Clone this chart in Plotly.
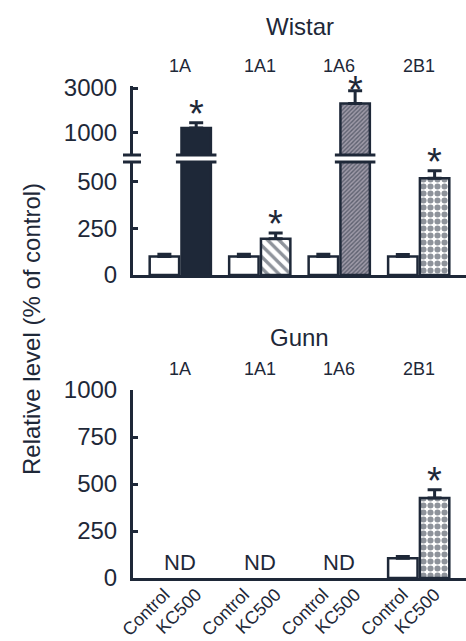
import numpy as np
import plotly.graph_objects as go

# ---- data -------------------------------------------------------------
groups = ["1A", "1A1", "1A6", "2B1"]
treatments = ["Control", "KC500"]

wistar_control = [100, 100, 100, 100]
wistar_control_err = [12, 12, 12, 10]
wistar_kc500 = [1130, 195, 2050, 520]
wistar_kc500_err = [150, 30, 750, 40]

gunn_control = [None, None, None, 105]
gunn_control_err = [None, None, None, 10]
gunn_kc500 = [None, None, None, 425]
gunn_kc500_err = [None, None, None, 45]

wistar_ticks_low = [0, 250, 500]
wistar_ticks_high = [1000, 3000]
gunn_ticks = [0, 250, 500, 750, 1000]

# ---- styling ----------------------------------------------------------
W, H = 466, 641
INK = "#1e2838"
FONT = "Liberation Sans, Arial, sans-serif"

# fill style of each KC500 bar, per gene
kc_bg = [INK, "white", "#9e9aa8", "white"]
kc_shape = ["", "\\", "/", "."]
kc_size = [8, 8, 3, 7]
kc_solidity = [0.3, 0.42, 0.45, 0.6]

BAR_W = 0.37
OFFSET = 0.2
LOW_TOP = 607               # top of the lower (linear) segment of the broken axis
HIGH_RANGE = [np.log10(583), np.log10(3150)]


def px_x(p):
    return p / W


def px_y(p):
    return 1 - p / H


fig = go.Figure()


def add_bar(x, y, err, xa, ya, bg, shape, size, solidity, base=None):
    pattern = dict(shape=shape, fgcolor=INK, bgcolor=bg, size=size,
                   solidity=solidity, fillmode="overlay")
    bar = go.Bar(
        x=[x], y=[y], width=BAR_W, base=base, xaxis=xa, yaxis=ya,
        marker=dict(color=bg, line=dict(color=INK, width=2.5), pattern=pattern),
        showlegend=False, hoverinfo="skip",
    )
    if err is not None:
        bar.error_y = dict(type="data", symmetric=False, array=[err], arrayminus=[0],
                           color=INK, thickness=3, width=7)
    fig.add_trace(bar)


annotations = []
shapes = []


def star(x, y, yref, log=False, shift=-14):
    annotations.append(dict(
        x=x, y=np.log10(y) if log else y, xref=yref[0], yref=yref[1],
        text="*", showarrow=False, yanchor="bottom", yshift=shift,
        font=dict(family=FONT, size=38, color=INK),
    ))


# ---- Wistar panel (broken y axis) ------------------------------------
for i, g in enumerate(groups):
    xc, xk = i - OFFSET, i + OFFSET
    add_bar(xc, wistar_control[i], wistar_control_err[i], "x", "y",
            "white", "", 8, 0.3)
    v, e = wistar_kc500[i], wistar_kc500_err[i]
    if v > LOW_TOP:
        # lower stub, upper part on the log segment
        add_bar(xk, v, None, "x", "y", kc_bg[i], kc_shape[i], kc_size[i], kc_solidity[i])
        add_bar(xk, v - 500, e, "x", "y2", kc_bg[i], kc_shape[i], kc_size[i],
                kc_solidity[i], base=500)
        star(xk, v + e, ("x", "y2"), log=True, shift=-14 if v + e < 2000 else -22)
        for yref, yy in (("y domain", 1), ("y2 domain", 0)):
            shapes.append(dict(type="line", xref="x", yref=yref,
                               x0=xk - BAR_W / 2 - 0.07, x1=xk + BAR_W / 2 + 0.07,
                               y0=yy, y1=yy, line=dict(color=INK, width=3)))
    else:
        add_bar(xk, v, e, "x", "y", kc_bg[i], kc_shape[i], kc_size[i], kc_solidity[i])
        star(xk, v + e, ("x", "y"))

# axis break marks
for yref, yy in (("y domain", 1), ("y2 domain", 0)):
    shapes.append(dict(type="line", xref="paper", yref=yref,
                       x0=px_x(123), x1=px_x(141), y0=yy, y1=yy,
                       line=dict(color=INK, width=3)))

# ---- Gunn panel -------------------------------------------------------
for i, g in enumerate(groups):
    xc, xk = i - OFFSET, i + OFFSET
    if gunn_kc500[i] is None:
        annotations.append(dict(x=i, y=80, xref="x2", yref="y3", text="ND",
                                showarrow=False, yanchor="middle",
                                font=dict(family=FONT, size=22, color=INK)))
        continue
    add_bar(xc, gunn_control[i], gunn_control_err[i], "x2", "y3", "white", "", 8, 0.3)
    add_bar(xk, gunn_kc500[i], gunn_kc500_err[i], "x2", "y3",
            kc_bg[i], kc_shape[i], kc_size[i], kc_solidity[i])
    star(xk, gunn_kc500[i] + gunn_kc500_err[i], ("x2", "y3"))

# ---- titles and gene labels ------------------------------------------
for title, ty, ly in (("Wistar", 27, 66), ("Gunn", 338, 369)):
    annotations.append(dict(x=1.5, y=px_y(ty), xref="x", yref="paper", text=title,
                            showarrow=False, yanchor="middle",
                            font=dict(family=FONT, size=24, color=INK)))
    for i, g in enumerate(groups):
        annotations.append(dict(x=i, y=px_y(ly), xref="x", yref="paper", text=g,
                                showarrow=False, yanchor="middle",
                                font=dict(family=FONT, size=18, color=INK)))

annotations.append(dict(x=px_x(31), y=px_y(329), xref="paper", yref="paper",
                        text="Relative level (% of control)", textangle=-90,
                        showarrow=False, xanchor="center", yanchor="middle",
                        font=dict(family=FONT, size=24, color=INK)))

# ---- axes -------------------------------------------------------------
tick_pos = [i + d for i in range(len(groups)) for d in (-OFFSET, OFFSET)]
tick_txt = treatments * len(groups)
x_dom = [px_x(133), 1.0]
x_range = [-0.595, 3.595]

common_x = dict(domain=x_dom, range=x_range, showline=True, linewidth=3,
                linecolor=INK, showgrid=False, zeroline=False, fixedrange=True,
                automargin=False)
common_y = dict(showline=True, linewidth=3, linecolor=INK, showgrid=False,
                zeroline=False, ticks="inside", ticklen=5, tickwidth=3,
                tickcolor=INK, ticklabelstandoff=8, automargin=False,
                tickfont=dict(family=FONT, size=24, color=INK))

fig.update_layout(
    width=W, height=H, margin=dict(l=0, r=0, t=0, b=0, autoexpand=False),
    paper_bgcolor="white", plot_bgcolor="white", barmode="overlay",
    xaxis=dict(**common_x, anchor="y", showticklabels=False, ticks=""),
    yaxis=dict(**common_y, domain=[px_y(275), px_y(162)], range=[0, LOW_TOP],
               tickvals=wistar_ticks_low, anchor="x"),
    yaxis2=dict(**common_y, domain=[px_y(155), px_y(86)], type="log",
                range=HIGH_RANGE, tickvals=wistar_ticks_high,
                ticktext=[str(t) for t in wistar_ticks_high], anchor="x"),
    xaxis2=dict(**common_x, anchor="y3", tickvals=tick_pos, ticktext=tick_txt,
                tickangle=-45, ticks="", ticklabelstandoff=-4,
                tickfont=dict(family=FONT, size=18, color=INK)),
    yaxis3=dict(**common_y, domain=[px_y(578), px_y(390)], range=[0, 1000],
                tickvals=gunn_ticks, anchor="x2"),
    annotations=annotations, shapes=shapes,
)

fig.write_html("out.html")
